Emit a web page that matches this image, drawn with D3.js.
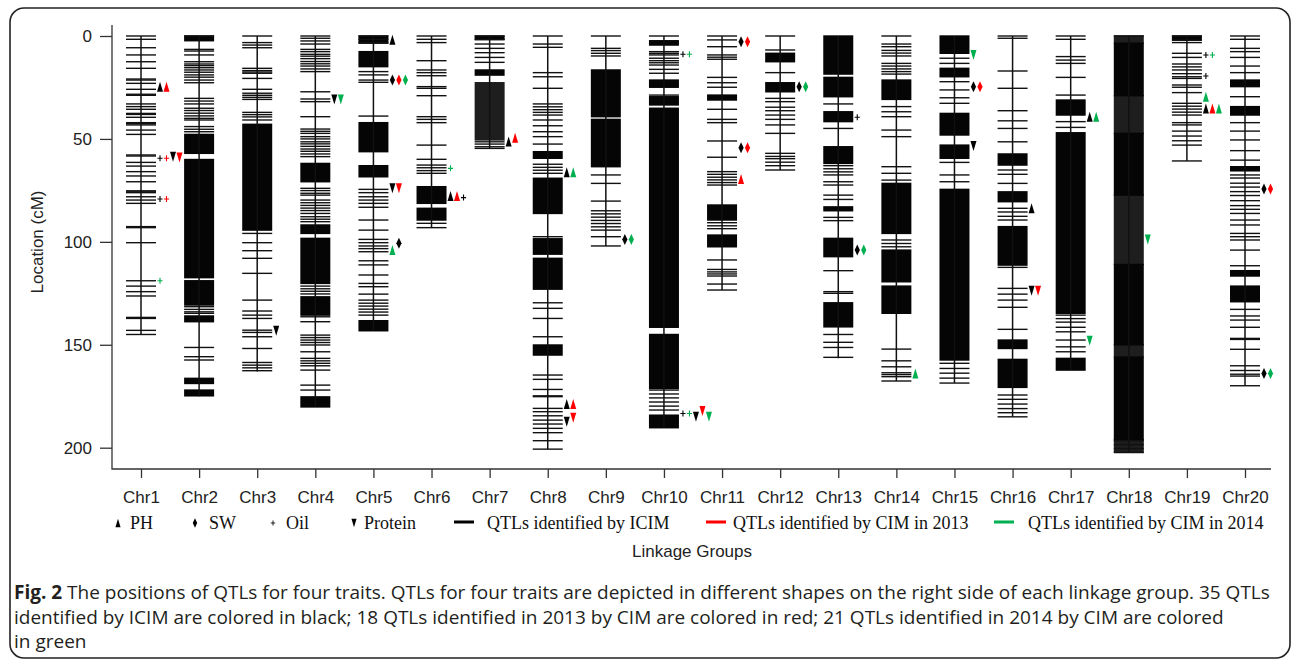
<!DOCTYPE html>
<html>
<head>
<meta charset="utf-8">
<script src="https://cdn.jsdelivr.net/npm/d3@7"></script>
<style>
  body { margin: 0; background: #fff; }
  svg { display: block; }
</style>
</head>
<body>
<svg width="1292" height="660"></svg>
<script>
const chromosomes = d3.range(1, 21).map(i => "Chr" + i);

// length of each linkage group (cM)
const groupLength = [145, 175, 163, 180, 143, 93, 54.6, 200.7, 102, 190.3,
                     123.4, 65.1, 156.6, 167.6, 168.6, 185, 162.3, 202.3, 60.7, 169.9];

// single marker positions (cM), one list per linkage group
const markerCM = [
  [0,1.6,5.7,9.2,12.5,15.7,20.9,21.4,23,25.9,28.3,28.8,33,34.3,35.6,37.6,38.1,39.5,42.1,42.6,43.2,45.7,47.8,57.8,58.3,61.4,63.2,65.9,68,70.8,75.2,75.7,76.1,78.1,79.7,81.3,92.6,93.1,100.4,118.9,121.5,124.2,126.3,136.7,137.2,143,145],
  [0,6.5,7.3,9.2,12.5,13.6,14.4,15.4,16.5,17.6,18.9,20,21.4,22.7,30.3,31.6,33,35.1,36.2,37.5,38.8,40,40.8,44,45.3,46.5,131.5,132.8,134,134.7,151.3,155.8,157.4],
  [0,3.2,4.4,5.7,15.7,16.8,17.5,18.1,20.6,25.9,27.8,28.8,29.8,30.8,37.1,38.2,39.3,40.8,95.9,100.4,104.3,108,115.3,128.3,133.6,135.6,137.2,142.9,144,146.1,151.8,158.6,159.9,161.2,162.6],
  [0,1.1,2.4,3.9,6.5,7.6,8.9,9.8,11,12.4,13.5,14.6,16,17.3,27.1,30.6,31.9,39.2,45.2,46.3,47.3,48.9,50,51.4,52.4,53.6,54.9,56,57.3,58.6,74,75.1,76.4,77.3,79.7,81,82.3,83.6,84.8,86.2,87.8,89,90.2,121.5,122.8,124,125.3,136.4,138.8,145.3,146.5,147.7,148.9,150.1,153.4,156.6,157.8,159,160.2,162.3,169.6,172],
  [0,1.6,3.2,17.3,18.9,21.4,22.5,38.9,74.5,76.1,78.1,79.7,81.3,83.2,89.4,94.3,98.8,100.4,102,103.3,104.8,109.2,111.2,116.1,120.2,121.8,125.4,128.3,129.8,131.2,132.7,134.1,135.6],
  [0,1.6,3.2,12,16.5,17.8,19.3,24.6,25.4,29,39.2,40.5,42.1,53,59.9,62.7,64,65.4,66.7,91,93.1],
  [0,1.6,3.9,6,8.1,10.4,12.8,51.4,52.5,53.8,54.6],
  [0,3.9,5.5,17.8,19.8,25.4,33,34.4,35.8,37.1,38.4,40.8,43.6,46.5,48.9,52.5,62.3,63.8,65.2,66.7,97.5,129.6,132.3,137.2,146.1,164.7,166.8,171.7,174.8,175.2,180.9,182.5,184.5,186.6,188.5,190.6,192.7,196.6,200.7],
  [0,6,7.1,8.4,9.7,67.5,71.6,80.2,84.9,86.4,88,89.6,91.1,92.7,94.3,97.5,102],
  [0,7.6,8.4,9.2,10.8,12,13,14.1,16.2,18.1,28.7,172,173.9,175.8,177.8,179.8,181.7],
  [0,1.9,5.2,9.2,10.3,11.3,20.1,22.7,24.9,35.6,40.5,42.1,51,58.9,65.9,67.2,68.6,69.9,71.2,72.4,90.7,92.2,93.6,108.8,113.4,114.6,115.6,116.6,120.5,123.4],
  [0,6.8,17.8,30.3,31.9,34.6,36.3,38.4,40.5,43.2,47.3,57,58.5,59.6,61.3,63,65.1],
  [33,44.9,63,64.5,66,67.5,70.8,72.4,77.3,79.4,88.1,89.7,114,124.2,125,145,148.8,151.3,156.1],
  [0,3.9,5.2,7,8.3,9.7,13.3,14.6,16,17.3,18.5,34.3,36.8,39.2,45.7,48.9,63.5,66.7,70,99.1,100.8,102.4,152.1,157.8,160.7,163.6,164.5,165.5,167.6],
  [10.8,13.3,22.2,26.2,30,32.7,61.4,67.5,70.8,159,161.5,163.8,166.2,168.6],
  [0,1.1,17,25.4,36.3,41.2,44.9,51.4,65.1,67.2,71.6,83.7,85.5,87.6,89.4,112.4,122.6,125.4,128.3,131.8,142.5,174.4,176.5,178.8,181,183,185],
  [0,1.6,10,11.7,13.3,20.1,28.7,41.6,44.4,135.6,137.3,139,141.5,143.7,147.7,151,153.4],
  [0,196.6,198.5,200.4,202.3],
  [0,2,3.2,8.4,10.4,13.6,15,16.5,18.3,19.8,20.6,23.8,24.9,27.5,32.7,34.1,35.5,37,38.4,42.1,43.2,46.2,48.6,50.9,53,60.7],
  [0,1.6,6,7.6,10.4,14.6,17.8,29.5,42.1,46.2,50.5,55.7,60.3,67.5,69,71.5,73.4,75.6,77.5,80,82.4,84.2,86.2,89.4,91.8,95.9,97.5,99.1,104,111.6,132.8,136,138,141.5,146.9,147.4,152.2,160.2,162.5,164.3,165.2,169.9]
];

// stretches so densely marked that they print solid (start, end cM)
const denseCM = [
  [],
  [[0,2.3],[47.8,57],[60,117.4],[118.9,130.7],[136,138.8],[166.3,168.8],[172,174.8]],
  [[42.9,94.3]],
  [[61.9,70.8],[91.8,95.9],[98.3,120.2],[126.7,135.6],[175.3,180.2]],
  [[0,3.5],[7.6,14.9],[42.1,56.2],[63,68.4],[138.3,143.2]],
  [[73.2,81.3],[83.7,89.4]],
  [[0,1.8],[16.5,19]],
  [[56.2,59.4],[69.1,86.2],[98.5,106],[108,123],[150.1,155]],
  [[16.5,39.2],[40.5,63.5]],
  [[2.3,4.4],[21.4,24.9],[29.5,33.5],[35.1,141.5],[145,171.2],[184.2,190.3]],
  [[28.7,31.1],[82.1,89.4],[96.7,102.4]],
  [[8.4,12.5],[22.7,27.1]],
  [[0,18.5],[20.1,29.5],[36.8,41.6],[53.8,61.9],[83,84.9],[98.3,107.2],[129.6,141.3]],
  [[21.4,30.8],[71.6,95.9],[104,119.4],[121.5,134.7]],
  [[0,8.4],[15.7,19.8],[37.6,48.1],[53,59.4],[74.5,157.4]],
  [[57.3,62.7],[75.7,80.5],[92.6,111.3],[147.7,151.8],[157.1,170.7]],
  [[31.1,38.4],[47,134.7],[156.6,162.3]],
  [[3.5,29],[47.3,77.3],[111,150],[156,196]],
  [[0,2]],
  [[21.4,24.6],[34.3,38.4],[63.5,65.5],[114,116.6],[121.5,129.1]]
];

// stretches dense enough to print dark grey (start, end cM)
const shadedCM = [
  [], [], [], [], [], [],
  [[22.7,50.5]],
  [], [], [], [], [], [], [], [], [], [],
  [[0,3.5],[29,47.3],[77.3,111],[150,156],[196,202.3]],
  [], []
];

// QTLs: [linkage group, position cM, trait, source]
const qtls = [
  [1,24.6,"PH","ICIM"],[1,24.6,"PH","CIM2013"],
  [1,59.4,"Oil","ICIM"],[1,59.4,"Oil","CIM2013"],[1,58.6,"Protein","ICIM"],[1,59,"Protein","CIM2013"],
  [1,79.2,"Oil","ICIM"],[1,79.2,"Oil","CIM2013"],
  [1,118.9,"Oil","CIM2014"],
  [3,143.2,"Protein","ICIM"],
  [4,30.8,"Protein","ICIM"],[4,30.8,"Protein","CIM2014"],
  [5,1.8,"PH","ICIM"],
  [5,21.4,"SW","ICIM"],[5,21.4,"SW","CIM2013"],[5,21.4,"SW","CIM2014"],
  [5,74,"Protein","ICIM"],[5,74,"Protein","CIM2013"],
  [5,104,"PH","CIM2014"],[5,100.7,"SW","ICIM"],
  [6,64.3,"Oil","CIM2014"],
  [6,77.7,"PH","ICIM"],[6,77.7,"PH","CIM2013"],[6,78.5,"Oil","ICIM"],
  [7,51.3,"PH","ICIM"],[7,49.4,"PH","CIM2013"],
  [8,66.2,"PH","ICIM"],[8,66.2,"PH","CIM2014"],
  [8,178.8,"PH","ICIM"],[8,178.8,"PH","CIM2013"],
  [8,187.4,"Protein","ICIM"],[8,185.5,"Protein","CIM2013"],
  [9,98.8,"SW","ICIM"],[9,98.8,"SW","CIM2014"],
  [10,8.9,"Oil","ICIM"],[10,8.9,"Oil","CIM2014"],
  [10,183.4,"Oil","ICIM"],[10,183.4,"Oil","CIM2014"],[10,185,"Protein","ICIM"],[10,182.2,"Protein","CIM2013"],[10,185,"Protein","CIM2014"],
  [11,2.8,"SW","ICIM"],[11,2.8,"SW","CIM2013"],
  [11,54.3,"SW","ICIM"],[11,54.3,"SW","CIM2013"],
  [11,69.5,"PH","CIM2013"],
  [12,24.6,"SW","ICIM"],[12,24.6,"SW","CIM2014"],
  [13,39.5,"Oil","ICIM"],
  [13,104,"SW","ICIM"],[13,104,"SW","CIM2014"],
  [14,164,"PH","CIM2014"],
  [15,9.2,"Protein","CIM2014"],
  [15,24.6,"SW","ICIM"],[15,24.6,"SW","CIM2013"],
  [15,53.4,"Protein","ICIM"],
  [16,83.7,"PH","ICIM"],
  [16,123.7,"Protein","ICIM"],[16,123.7,"Protein","CIM2013"],
  [17,39.2,"PH","ICIM"],[17,39.2,"PH","CIM2014"],
  [17,148,"Protein","CIM2014"],
  [18,98.8,"Protein","CIM2014"],
  [19,9.2,"Oil","ICIM"],[19,9.2,"Oil","CIM2014"],
  [19,19.4,"Oil","ICIM"],
  [19,29.5,"PH","CIM2014"],
  [19,35.2,"PH","ICIM"],[19,35.2,"PH","CIM2013"],[19,35.2,"PH","CIM2014"],
  [20,74.3,"SW","ICIM"],[20,74.3,"SW","CIM2013"],
  [20,164,"SW","ICIM"],[20,164,"SW","CIM2014"]
];

const traits = ["PH", "SW", "Oil", "Protein"];
const sources = ["ICIM", "CIM2013", "CIM2014"];
const sourceLabels = ["QTLs identified by ICIM", "QTLs identified by CIM in 2013", "QTLs identified by CIM in 2014"];
const yTicks = [0, 50, 100, 150, 200];

const captionLines = [
  [["Fig. 2", true], [" The positions of QTLs for four traits. QTLs for four traits are depicted in different shapes on the right side of each linkage group. 35 QTLs", false]],
  [["identified by ICIM are colored in black; 18 QTLs identified in 2013 by CIM are colored in red; 21 QTLs identified in 2014 by CIM are colored", false]],
  [["in green", false]]
];

const svg = d3.select("svg");
const sans = "'Liberation Sans', Arial, sans-serif";
const serif = "'Liberation Serif', 'Times New Roman', serif";

svg.append("rect").attr("width", 1292).attr("height", 660).attr("fill", "#fff");

// figure frame
svg.append("rect")
    .attr("x", 10).attr("y", 8)
    .attr("width", 1280).attr("height", 650)
    .attr("rx", 14).attr("ry", 14)
    .attr("fill", "none").attr("stroke", "#222").attr("stroke-width", 1.6);

const x = d3.scalePoint().domain(chromosomes).range([141, 1245]);
const y = d3.scaleLinear().domain([0, 200]).range([36, 447.7]);
const color = d3.scaleOrdinal().domain(sources).range(["#000000", "#ff0000", "#00b050"]);
const halfW = 15;

const plotLeft = 112, plotBottom = 469, plotTop = 25, plotRight = 1271;

// axes box (L shape)
svg.append("path")
    .attr("d", `M${plotLeft},${plotTop}V${plotBottom}H${plotRight}`)
    .attr("fill", "none").attr("stroke", "#333").attr("stroke-width", 1.3);

const yAxis = svg.append("g")
    .attr("transform", `translate(${plotLeft},0)`)
    .call(d3.axisLeft(y).tickValues(yTicks).tickSize(12).tickPadding(8));
yAxis.select(".domain").remove();
yAxis.selectAll("line").attr("stroke", "#333").attr("stroke-width", 1.3);
yAxis.selectAll("text").attr("font-family", sans).attr("font-size", 17).attr("fill", "#222");

const xAxis = svg.append("g")
    .attr("transform", `translate(0,${plotBottom})`)
    .call(d3.axisBottom(x).tickSize(9).tickPadding(13));
xAxis.select(".domain").remove();
xAxis.selectAll("line").attr("stroke", "#333").attr("stroke-width", 1.3);
xAxis.selectAll("text").attr("font-family", sans).attr("font-size", 17).attr("fill", "#222");

// linkage groups
const groups = svg.append("g").selectAll("g")
  .data(chromosomes)
  .join("g")
    .attr("transform", d => `translate(${x(d)},0)`);

groups.selectAll("rect.shaded")
  .data((d, i) => shadedCM[i])
  .join("rect")
    .attr("class", "shaded")
    .attr("x", -halfW)
    .attr("width", halfW * 2)
    .attr("y", d => y(d[0]) - 0.7)
    .attr("height", d => y(d[1]) - y(d[0]) + 1.4)
    .attr("fill", "#1e1e1e");

groups.selectAll("rect.dense")
  .data((d, i) => denseCM[i])
  .join("rect")
    .attr("class", "dense")
    .attr("x", -halfW)
    .attr("width", halfW * 2)
    .attr("y", d => y(d[0]) - 0.7)
    .attr("height", d => y(d[1]) - y(d[0]) + 1.4)
    .attr("fill", "#050505");

groups.selectAll("line.marker")
  .data((d, i) => markerCM[i])
  .join("line")
    .attr("class", "marker")
    .attr("x1", -halfW).attr("x2", halfW)
    .attr("y1", d => y(d)).attr("y2", d => y(d))
    .attr("stroke", "#111").attr("stroke-width", 1.4);

groups.append("line")
    .attr("y1", y(0))
    .attr("y2", (d, i) => y(groupLength[i]))
    .attr("stroke", "#111").attr("stroke-width", 1.5);

// symbol shapes
function symbolPath(trait) {
  if (trait === "PH") return "M0,-5L3,5L-3,5Z";
  if (trait === "Protein") return "M0,5L3,-5L-3,-5Z";
  if (trait === "SW") return "M0,-5.5L2.6,0L0,5.5L-2.6,0Z";
  return "M-2.6,0H2.6M0,-3V3";
}

// lay QTLs side by side when they sit at nearly the same place
let prevChr = null, prevPos = null, slot = 0;
const placed = qtls.map(q => {
  if (q[0] === prevChr && Math.abs(q[1] - prevPos) < 4) slot += 1;
  else slot = 0;
  prevChr = q[0]; prevPos = q[1];
  return {chr: chromosomes[q[0] - 1], pos: q[1], trait: q[2], source: q[3], slot: slot};
});

svg.append("g").selectAll("path")
  .data(placed)
  .join("path")
    .attr("transform", d => `translate(${x(d.chr) + 19 + d.slot * 6.5},${y(d.pos)})`)
    .attr("d", d => symbolPath(d.trait))
    .attr("fill", d => d.trait === "Oil" ? "none" : color(d.source))
    .attr("stroke", d => d.trait === "Oil" ? color(d.source) : "none")
    .attr("stroke-width", 1.1);

// y title
svg.append("text")
    .attr("transform", "translate(43,242) rotate(-90)")
    .attr("text-anchor", "middle")
    .attr("font-family", sans).attr("font-size", 17).attr("fill", "#222")
    .text("Location (cM)");

// legend
const legendY = 523;
const traitLegX = [118, 195, 273, 354];
const traitLabelX = [130, 209, 286, 364];
traits.forEach((t, i) => {
  svg.append("path")
    .attr("transform", `translate(${traitLegX[i]},${legendY}) scale(0.85)`)
    .attr("d", symbolPath(t))
    .attr("fill", t === "Oil" ? "none" : "#000")
    .attr("stroke", t === "Oil" ? "#000" : "none")
    .attr("stroke-width", 1);
  svg.append("text")
    .attr("x", traitLabelX[i]).attr("y", legendY + 6)
    .attr("font-family", serif).attr("font-size", 18).attr("fill", "#111")
    .text(t);
});

const srcLineX = [454, 706, 994];
const srcLabelX = [487, 733, 1028];
sources.forEach((s, i) => {
  svg.append("line")
    .attr("x1", srcLineX[i]).attr("x2", srcLineX[i] + 20)
    .attr("y1", legendY - 1).attr("y2", legendY - 1)
    .attr("stroke", color(s)).attr("stroke-width", 3);
  svg.append("text")
    .attr("x", srcLabelX[i]).attr("y", legendY + 6)
    .attr("font-family", serif).attr("font-size", 18).attr("fill", "#111")
    .text(sourceLabels[i]);
});

svg.append("text")
    .attr("x", 692).attr("y", 557)
    .attr("text-anchor", "middle")
    .attr("font-family", sans).attr("font-size", 17).attr("fill", "#222")
    .text("Linkage Groups");

// caption
captionLines.forEach((parts, i) => {
  const t = svg.append("text")
    .attr("x", 14).attr("y", 599 + i * 24.5)
    .attr("font-family", "'Open Sans', 'Noto Sans', sans-serif")
    .attr("font-size", 19).attr("fill", "#231f20");
  parts.forEach(p => {
    t.append("tspan").attr("font-weight", p[1] ? "bold" : "normal").text(p[0]);
  });
});
</script>
</body>
</html>
